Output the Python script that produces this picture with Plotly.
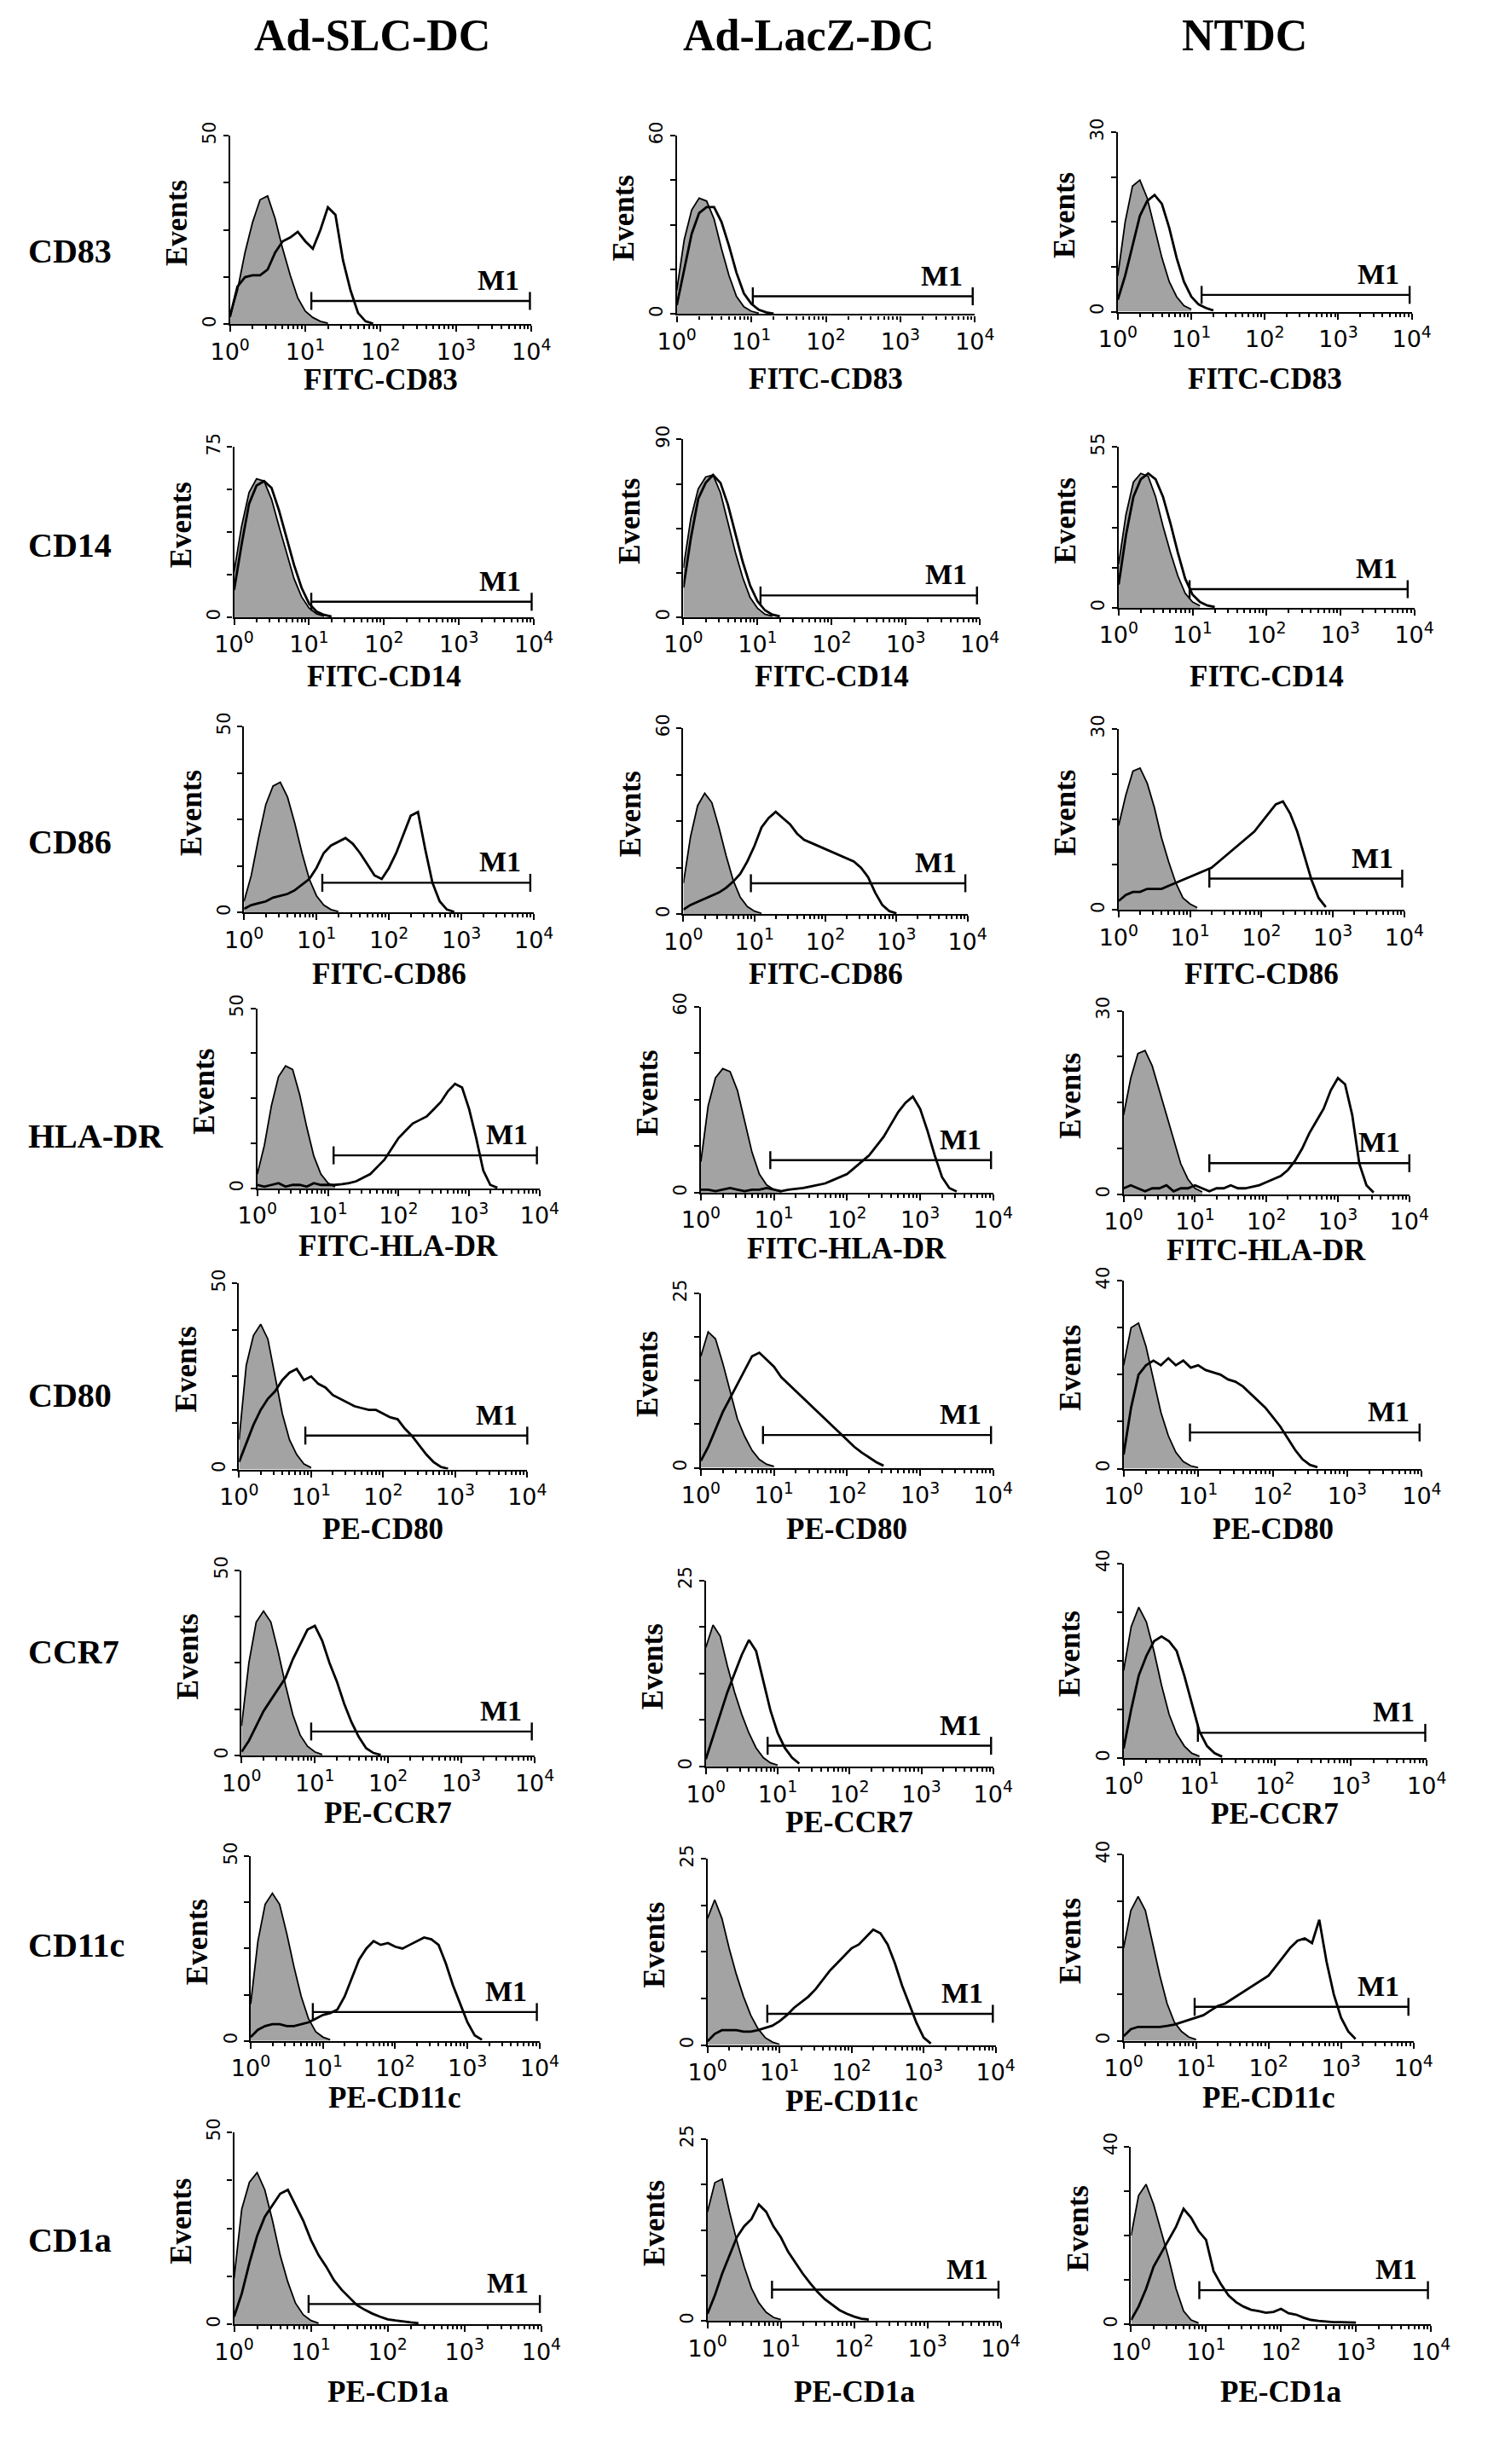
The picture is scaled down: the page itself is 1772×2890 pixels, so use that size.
import numpy as np
import plotly.graph_objects as go

W, H = 1772, 2890

COLUMNS = ["Ad-SLC-DC", "Ad-LacZ-DC", "NTDC"]
MARKERS = ["CD83", "CD14", "CD86", "HLA-DR", "CD80", "CCR7", "CD11c", "CD1a"]
X_TITLES = ["FITC-CD83", "FITC-CD14", "FITC-CD86", "FITC-HLA-DR",
            "PE-CD80", "PE-CCR7", "PE-CD11c", "PE-CD1a"]
Y_MAX = [[50, 60, 30], [75, 90, 55], [50, 60, 30], [50, 60, 30],
         [50, 25, 40], [50, 25, 40], [50, 25, 40], [50, 25, 40]]
DECADES = ["10<sup>0</sup>", "10<sup>1</sup>", "10<sup>2</sup>", "10<sup>3</sup>", "10<sup>4</sup>"]

# fluorescence channel, in decades (log10), shared by every histogram
LOG_X = [0.0, 0.1, 0.2, 0.3, 0.4, 0.5, 0.6, 0.7, 0.8, 0.9, 1.0, 1.1,
         1.2, 1.3, 1.4, 1.5, 1.6, 1.7, 1.8, 1.9, 2.0, 2.1, 2.2, 2.3,
         2.4, 2.5, 2.6, 2.7, 2.8, 2.9, 3.0, 3.1, 3.2, 3.3, 3.4, 3.5]

# isotype control (grey) and stained (open) histograms, one list per column
ISO_CD83 = [[2, 9, 19, 27, 33, 34, 28, 20, 13, 7, 3.5, 1.8, 0.8, 0.3],
            [8, 25, 35, 39, 38, 32, 22, 13, 6, 2.5, 1, 0.3],
            [6, 15, 21, 22, 19, 14, 9, 5, 2.5, 1, 0.4]]
STAIN_CD83 = [[2, 10, 12.5, 13, 13, 14.5, 19, 22, 23, 24.5, 22, 20, 25, 31, 29, 17, 9, 3, 0.8, 0.2],
              [3, 15, 27, 34, 36, 36, 31, 23, 14, 7, 3.5, 1.5, 0.6, 0.2],
              [2, 6, 11, 16, 18.5, 19.5, 18, 14, 9, 5, 2.5, 1.2, 0.6, 0.2]]

ISO_CD14 = [[20, 40, 55, 61, 60, 52, 40, 28, 17, 9, 4, 1.5, 0.5],
            [25, 50, 65, 71, 72, 63, 48, 33, 20, 10, 4.5, 1.5, 0.5],
            [15, 32, 43, 46, 45, 38, 28, 19, 11, 5, 2, 0.7]]
STAIN_CD14 = [[12, 32, 50, 58, 60, 57, 47, 35, 23, 13, 6, 2.5, 1, 0.3],
              [15, 40, 60, 68, 72, 68, 57, 42, 28, 16, 8, 3.5, 1.3, 0.4],
              [8, 25, 38, 44, 46, 44, 38, 29, 19, 10, 4.5, 2, 0.8, 0.3]]

ISO_CD86 = [[3, 10, 20, 29, 34, 35, 31, 24, 16, 9, 4.5, 2, 0.8, 0.3],
            [10, 25, 35, 39, 36, 28, 19, 11, 5.5, 2.5, 1, 0.3],
            [14, 19, 23, 23.5, 21, 17, 12, 8, 4.5, 2, 1, 0.4]]
STAIN_CD86 = [[1, 2, 2.5, 3, 4, 4.5, 5, 6, 7.5, 9, 12, 16, 18, 19, 20, 18.5, 16, 13, 10, 9,
               12, 16, 21, 26, 27, 17, 8, 3, 0.8, 0.2],
              [1.5, 3, 4, 5, 6, 7, 8.5, 10.5, 13, 17, 22, 28, 31, 33, 31, 29, 26, 24, 23, 22,
               21, 20, 19, 18, 17, 15, 12, 7, 3, 1, 0.3],
              [1.5, 2.5, 3, 3, 3.5, 3.5, 3.5, 4, 4.5, 5, 5.5, 6, 6.5, 7, 8, 9, 10, 11, 12, 13,
               14.5, 16, 17.5, 18, 16, 13, 9, 5, 2, 0.5]]

ISO_HLADR = [[4, 12, 23, 31, 34, 33, 26, 17, 9, 4, 1.5, 0.5],
             [10, 28, 37, 40, 39, 33, 23, 13, 6, 2.5, 1, 0.3],
             [13, 19, 23, 23.5, 21, 17, 13, 9, 5, 2.5, 1, 0.4]]
STAIN_HLADR = [[1, 0.5, 1, 1.5, 0.5, 1, 1, 0.5, 1.5, 1, 1, 1, 1.2, 1.5, 2, 3, 4, 6, 8, 11,
                14, 16, 18, 19, 20, 22, 24, 27, 29, 28, 22, 14, 5, 1, 0.2],
               [1, 1, 0.5, 1, 1.5, 1, 0.5, 1, 1, 1.5, 1, 0.5, 1, 1.2, 1.5, 2, 2.5, 3, 4, 5,
                6, 8, 10, 12, 15, 18, 22, 26, 29, 31, 27, 20, 12, 5, 1.5, 0.4],
               [1, 1.5, 1, 0.5, 1, 1, 1.5, 0.5, 1, 1, 1.5, 1, 0.5, 1, 1, 1.5, 1, 1, 1.2, 1.5,
                2, 2.5, 3, 4, 5.5, 7.5, 10, 12, 14, 17, 19, 18, 13, 5, 1.5, 0.3]]

ISO_CD80 = [[8, 28, 36, 39, 35, 25, 15, 8, 4, 1.5, 0.5],
            [16, 19.5, 18.5, 15, 11, 7, 4.5, 2.5, 1.2, 0.5, 0.2],
            [22, 30, 31, 26, 19, 12, 7, 3.5, 1.5, 0.6, 0.2]]
STAIN_CD80 = [[2, 7, 12, 16, 19, 21, 24, 26, 27, 24, 25, 23, 22, 20, 19, 18, 17, 16.5, 16, 16,
               15, 14, 13.5, 11, 9, 6.5, 4, 2, 0.7, 0.2],
              [1, 3, 5.5, 8, 10, 12, 14, 16, 16.5, 15.5, 14.5, 13, 12, 11, 10, 9, 8, 7, 6, 5,
               4, 3, 2.2, 1.5, 0.8, 0.3],
              [3, 13, 20, 22, 23, 22, 23.5, 22, 23, 21.5, 22, 21, 20.5, 20, 19, 18.5, 17.5, 16, 14.5, 13,
               11, 9, 6.5, 4, 2, 0.8, 0.3]]

ISO_CCR7 = [[8, 25, 36, 39, 36, 28, 19, 11, 5.5, 2.5, 1, 0.3],
            [16, 19, 17.5, 13.5, 10, 7, 4.5, 2.5, 1.2, 0.5, 0.2],
            [18, 27, 31, 28, 22, 15, 9, 5, 2.5, 1, 0.4]]
STAIN_CCR7 = [[1, 4, 8, 12, 15, 18, 21, 26, 30, 34, 35, 31, 25, 20, 14, 9, 5, 2, 0.7, 0.2],
              [1, 4, 7, 10, 12.5, 15, 17, 15.5, 11.5, 7.5, 4.5, 2.5, 1.2, 0.4],
              [2, 10, 17, 21, 24, 25, 24, 22, 17, 11, 5.5, 2.5, 1, 0.3]]

ISO_CD11C = [[10, 27, 37, 40, 37, 29, 20, 12, 6, 2.5, 1, 0.3],
             [17, 19.5, 17, 13, 9.5, 6.5, 4, 2.2, 1, 0.4, 0.1],
             [20, 28, 31, 28, 21, 14, 8, 4, 2, 0.8, 0.3]]
STAIN_CD11C = [[1, 3, 4, 4.5, 4.5, 4, 4, 4.5, 5, 6, 7, 7.5, 8.5, 12, 17, 22, 25, 27, 26, 26.5,
                25.5, 25, 26, 27, 28, 27.5, 26, 21, 15, 10, 5, 1.5, 0.3],
               [0.5, 1.5, 2, 2, 2, 1.8, 1.8, 2, 2.3, 2.6, 3.2, 4, 5, 5.8, 6.5, 7.5, 8.8, 10, 11, 12,
                13, 13.5, 14.5, 15.5, 15, 13.5, 11, 8, 5.5, 3, 1, 0.2],
               [1, 2.5, 3, 3, 3, 3, 3.2, 3.5, 4, 4.5, 5, 5.5, 6.5, 7.5, 8, 9, 10, 11, 12, 13,
                14, 16, 18, 20, 21.5, 22, 21, 26, 17, 10, 5, 2, 0.4]]

ISO_CD1A = [[12, 30, 37, 39.5, 35, 27, 18, 11, 5.5, 2.5, 1, 0.3],
            [15, 19, 19.5, 15, 11, 7.5, 4.5, 2.5, 1.2, 0.5, 0.2],
            [20, 29, 31.5, 27, 21, 15, 8, 3, 1, 0.3]]
STAIN_CD1A = [[2, 8, 16, 23, 28, 31, 34, 35, 31, 27, 22, 18, 15, 11.5, 9, 7, 5, 3.8, 2.8, 2,
               1.3, 1, 0.7, 0.5, 0.3],
              [1, 3.5, 6.5, 9, 11.5, 13, 14, 16, 15, 13, 11.5, 9.5, 8, 6.5, 5.2, 4, 3, 2.2, 1.5, 1,
               0.6, 0.3, 0.2],
              [1, 4, 8, 13, 16, 19, 22, 26, 24, 21, 19, 12, 9, 6.5, 5, 4, 3.3, 3, 2.6, 2.8,
               3.5, 2.5, 2.2, 1.5, 1, 0.8, 0.6, 0.5, 0.5, 0.5, 0.4]]

# M1 marker gates: start / end (decades) and height (events)
M1_START = [[1.08, 1.02, 1.14], [1.03, 1.04, 0.96], [1.08, 0.95, 1.27], [1.08, 0.95, 1.20],
            [0.92, 0.85, 0.89], [0.95, 0.86, 0.98], [0.86, 0.83, 0.98], [0.97, 0.88, 0.91]]
M1_END = [[3.98, 3.97, 3.97], [3.97, 3.96, 3.91], [3.95, 3.97, 3.97], [3.96, 3.97, 4.0],
          [4.0, 3.97, 3.97], [3.96, 3.97, 3.98], [3.96, 3.96, 3.93], [3.98, 3.97, 3.96]]
M1_LEVEL = [[6.2, 6, 2.8], [6.8, 11, 6.4], [8, 10, 5.2], [9.2, 10.5, 5.1],
            [9.1, 4.7, 7.7], [6.5, 2.8, 5.2], [7.8, 4.2, 7.3], [5.3, 4.3, 7.7]]

ISO = [ISO_CD83, ISO_CD14, ISO_CD86, ISO_HLADR, ISO_CD80, ISO_CCR7, ISO_CD11C, ISO_CD1A]
STAIN = [STAIN_CD83, STAIN_CD14, STAIN_CD86, STAIN_HLADR, STAIN_CD80, STAIN_CCR7, STAIN_CD11C, STAIN_CD1A]

# panel boxes in page pixels: left, right, top (= y max), bottom (= 0)
BOX = [[(245, 608, 135, 358), (783, 1142, 135, 346), (1314, 1668, 131, 343)],
       [(250, 611, 503, 704), (791, 1148, 494, 704), (1315, 1671, 503, 693)],
       [(262, 611, 833, 1053), (791, 1133, 835, 1055), (1315, 1659, 836, 1050)],
       [(278, 618, 1166, 1379), (812, 1164, 1164, 1384), (1321, 1665, 1169, 1386)],
       [(256, 603, 1491, 1711), (812, 1164, 1503, 1709), (1321, 1680, 1488, 1710)],
       [(259, 612, 1830, 2049), (818, 1164, 1842, 2062), (1321, 1686, 1822, 2052)],
       [(270, 618, 2168, 2386), (820, 1167, 2171, 2391), (1321, 1670, 2166, 2386)],
       [(250, 620, 2494, 2721), (820, 1173, 2502, 2717), (1330, 1691, 2511, 2721)]]
ROW_LABEL_Y = [271, 619, 970, 1317, 1623, 1927, 2273, 2622]
X_TITLE_Y = [423, 774, 1126, 1447, 1781, 2117, 2453, 2801]
HEADER_X = [416, 942, 1467]

MINOR = [float(np.log10(m * 10 ** d)) for d in range(4) for m in range(2, 10)]
SERIF = "Liberation Serif"
SANS = "DejaVu Sans"

fig = go.Figure()
layout = {}
annotations = []

for r in range(8):
    for c in range(3):
        k = r * 3 + c + 1
        xa, ya = ("x", "y") if k == 1 else (f"x{k}", f"y{k}")
        x0, x1, yt, yb = BOX[r][c]
        ymax = Y_MAX[r][c]
        iso = ISO[r][c]
        stain = STAIN[r][c]

        fig.add_trace(go.Scatter(x=LOG_X[:len(iso)], y=iso, xaxis=xa, yaxis=ya, mode="lines",
                                 line=dict(color="black", width=1.8), fill="tozeroy",
                                 fillcolor="#a3a3a3", hoverinfo="skip"))
        fig.add_trace(go.Scatter(x=LOG_X[:len(stain)], y=stain, xaxis=xa, yaxis=ya, mode="lines",
                                 line=dict(color="black", width=2.8), hoverinfo="skip"))
        lvl = M1_LEVEL[r][c]
        fig.add_trace(go.Scatter(x=[M1_START[r][c], M1_END[r][c]], y=[lvl, lvl], xaxis=xa, yaxis=ya,
                                 mode="lines+markers", line=dict(color="black", width=2.4),
                                 marker=dict(symbol="line-ns-open", size=15,
                                             line=dict(color="black", width=2.4)),
                                 cliponaxis=False, hoverinfo="skip"))
        annotations.append(dict(x=M1_END[r][c] - 0.42, y=lvl, xref=xa, yref=ya, text="<b>M1</b>",
                                showarrow=False, yanchor="bottom", yshift=4,
                                font=dict(family=SERIF, size=34, color="black")))

        layout["xaxis" if k == 1 else f"xaxis{k}"] = dict(
            domain=[x0 / W, x1 / W], anchor=ya, range=[0, 4],
            tickvals=[0, 1, 2, 3, 4], ticktext=DECADES, ticks="outside", ticklen=7, tickwidth=2,
            tickcolor="black", showline=True, linewidth=2.2, linecolor="black",
            showgrid=False, zeroline=False, fixedrange=True,
            minor=dict(tickvals=MINOR, ticks="outside", ticklen=4, tickwidth=1.5, tickcolor="black"),
            tickfont=dict(family=SANS, size=27, color="black"))
        layout["yaxis" if k == 1 else f"yaxis{k}"] = dict(
            domain=[1 - yb / H, 1 - yt / H], anchor=xa, range=[0, ymax],
            tickvals=[0, ymax / 4, ymax / 2, 3 * ymax / 4, ymax],
            ticktext=["0", "", "", "", str(ymax)], tickangle=-90,
            ticks="outside", ticklen=6, tickwidth=2, tickcolor="black",
            showline=True, linewidth=2.2, linecolor="black",
            showgrid=False, zeroline=False, fixedrange=True,
            tickfont=dict(family=SANS, size=21, color="black"))

        annotations.append(dict(x=(x0 - 64) / W, y=1 - ((yt + yb) / 2 - 8) / H, xref="paper", yref="paper",
                                text="<b>Events</b>", textangle=-90, showarrow=False,
                                xanchor="center", yanchor="middle",
                                font=dict(family=SERIF, size=35, color="black")))
        title_y = max(X_TITLE_Y[r], yb + 66)
        annotations.append(dict(x=(x0 + x1) / 2 / W, y=1 - title_y / H, xref="paper", yref="paper",
                                text="<b>" + X_TITLES[r] + "</b>", showarrow=False,
                                xanchor="center", yanchor="middle",
                                font=dict(family=SERIF, size=35, color="black")))

    annotations.append(dict(x=0, y=1 - ROW_LABEL_Y[r] / H, xref="paper", yref="paper",
                            text="<b>" + MARKERS[r] + "</b>", showarrow=False,
                            xanchor="left", yanchor="middle",
                            font=dict(family=SERIF, size=40, color="black")))

for c, name in enumerate(COLUMNS):
    annotations.append(dict(x=HEADER_X[c] / W, y=1 - 17 / H, xref="paper", yref="paper",
                            text="<b>" + name + "</b>", showarrow=False,
                            xanchor="center", yanchor="middle",
                            font=dict(family=SERIF, size=52, color="black")))

fig.update_layout(width=W, height=H, margin=dict(l=0, r=0, t=0, b=0),
                  paper_bgcolor="white", plot_bgcolor="white", showlegend=False,
                  annotations=annotations, **layout)

fig.write_html("out.html")
